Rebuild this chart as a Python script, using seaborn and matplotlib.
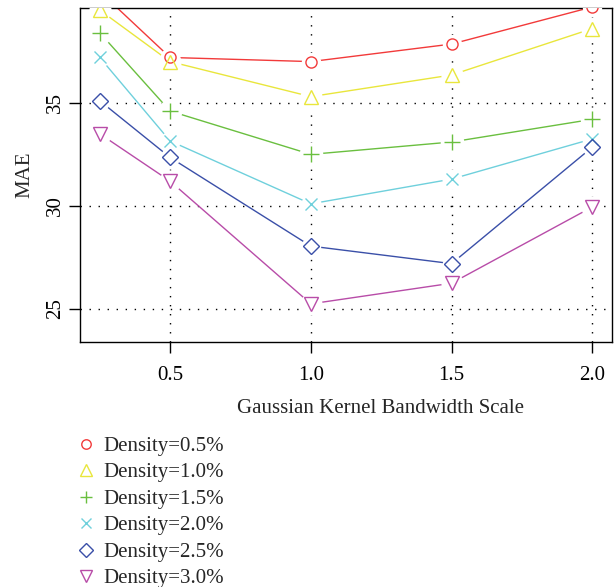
import numpy as np
import pandas as pd
import matplotlib
matplotlib.use('Agg')
import matplotlib.pyplot as plt
from matplotlib.lines import Line2D
import seaborn as sns

# data
bandwidth = [0.25, 0.5, 1.0, 1.5, 2.0]
labels = ['Density=0.5%', 'Density=1.0%', 'Density=1.5%',
          'Density=2.0%', 'Density=2.5%', 'Density=3.0%']
mae_05 = [40.4, 37.2, 37.0, 37.85, 39.65]
mae_10 = [39.5, 37.0, 35.3, 36.35, 38.6]
mae_15 = [38.4, 34.6, 32.5, 33.1, 34.2]
mae_20 = [37.2, 33.15, 30.1, 31.3, 33.25]
mae_25 = [35.1, 32.35, 28.05, 27.2, 32.85]
mae_30 = [33.5, 31.2, 25.25, 26.25, 29.95]
x_ticks = [0.5, 1.0, 1.5, 2.0]
y_ticks = [25, 30, 35]

series = [mae_05, mae_10, mae_15, mae_20, mae_25, mae_30]
colors = ['#f23a3a', '#e9e63c', '#6abf3f', '#6fd0dc', '#3a4fa8', '#b84ca8']
markers = ['o', '^', '+', 'x', 'D', 'v']
msizes = [8, 10, 11, 8.5, 8, 10]

df = pd.DataFrame({
    'bw': bandwidth * len(series),
    'mae': np.concatenate(series),
    'grp': np.repeat(labels, len(bandwidth)),
})

sns.set_style('white')
plt.rcParams['font.family'] = ['Liberation Serif', 'DejaVu Serif']

fig = plt.figure(figsize=(6.16, 5.87), dpi=100)
ax = fig.add_axes([0.1299, 0.4174, 0.8636, 0.569])

# dotted grid
for gx in x_ticks:
    ax.axvline(gx, color='black', lw=1.0, ls=(0, (1, 5.5)), zorder=1)
for gy in y_ticks:
    ax.axhline(gy, color='black', lw=1.0, ls=(0, (1, 5.5)), zorder=1)

sns.lineplot(data=df, x='bw', y='mae', hue='grp', palette=colors,
             legend=False, lw=1.0, ax=ax, zorder=2)

# gaps around points like R type="b", then hollow markers
for vals, c, m, s in zip(series, colors, markers, msizes):
    ax.plot(bandwidth, vals, ls='none', marker='o', ms=s + 6, mfc='white',
            mec='none', zorder=3)
for vals, c, m, s in zip(series, colors, markers, msizes):
    ax.plot(bandwidth, vals, ls='none', marker=m, ms=s, mfc='none',
            mec=c, mew=1.0, zorder=4)

ax.set_xlim(0.18, 2.07)
ax.set_ylim(23.4, 39.6)
ax.set_xticks(x_ticks)
ax.set_xticklabels(['0.5', '1.0', '1.5', '2.0'])
ax.set_yticks(y_ticks)
ax.set_yticklabels([str(v) for v in y_ticks], rotation=90, va='center')
ax.tick_params(axis='both', direction='out', length=8, width=1,
               labelsize=15, colors='black', left=True, bottom=True)
ax.tick_params(axis='x', pad=9)
ax.tick_params(axis='y', pad=3)
for sp in ax.spines.values():
    sp.set_visible(True)
    sp.set_color('black')
    sp.set_linewidth(1.0)

ax.set_xlabel('Gaussian Kernel Bandwidth Scale', fontsize=15)
ax.set_ylabel('MAE', fontsize=15)
ax.xaxis.set_label_coords(0.564, -0.172)
ax.yaxis.set_label_coords(-0.086, 0.5)

handles = [Line2D([], [], ls='none', marker=m, ms=s * 0.85, mfc='none', mec=c,
                  mew=1.0) for c, m, s in zip(colors, markers, msizes)]
fig.legend(handles, labels, loc='upper left', bbox_to_anchor=(0.1227, 0.2565),
           frameon=False, fontsize=15, handlelength=1.0, handletextpad=0.32,
           borderpad=0, borderaxespad=0, labelspacing=0.33)

fig.savefig('out.png', dpi=100)
